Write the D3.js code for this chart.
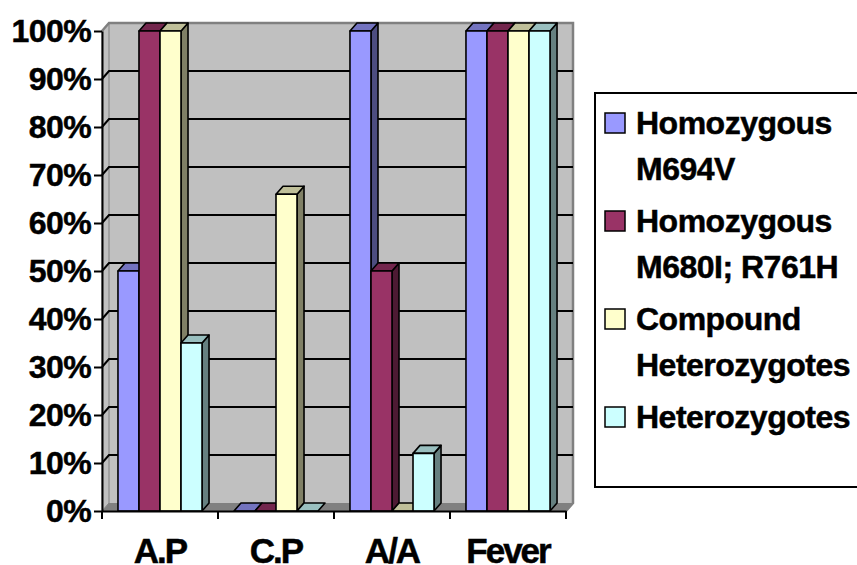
<!DOCTYPE html>
<html>
<head>
<meta charset="utf-8">
<script src="https://cdn.jsdelivr.net/npm/d3@7"></script>
<style>
  html, body { margin: 0; padding: 0; background: #fff; }
  svg { display: block; }
  text { font-family: "Liberation Sans", Arial, sans-serif; font-weight: bold; fill: #000; }
</style>
</head>
<body>
<svg id="chart" width="857" height="565"></svg>
<script>
// Categories along the x axis
const categories = ["A.P", "C.P", "A/A", "Fever"];
// Genotype groups (series)
const seriesNames = ["Homozygous M694V", "Homozygous M680I; R761H", "Compound Heterozygotes", "Heterozygotes"];
const legendLines = [["Homozygous", "M694V"], ["Homozygous", "M680I; R761H"], ["Compound", "Heterozygotes"], ["Heterozygotes"]];
// Share of patients (fraction) per category, one array per series
const m694v    = [0.50, 0.00, 1.00, 1.00];
const m680i    = [1.00, 0.00, 0.50, 1.00];
const compound = [1.00, 0.66, 0.00, 1.00];
const hetero   = [0.35, 0.00, 0.12, 1.00];
const seriesValues = [m694v, m680i, compound, hetero];
const yTicks = [0, 0.1, 0.2, 0.3, 0.4, 0.5, 0.6, 0.7, 0.8, 0.9, 1.0];

const fills = ["#9999FF", "#993366", "#FFFFCC", "#CCFFFF"];
const shade = (c, k) => { const r = d3.rgb(c); return d3.rgb(r.r * k, r.g * k, r.b * k).formatHex(); };

const svg = d3.select("#chart");

// Front plane geometry and 3D depth offset
const pLeft = 102, pRight = 566, pBottom = 511, pTop = 31;
const dx = 7, dy = 8;

const x = d3.scaleBand().domain(categories).range([pLeft, pRight]).padding(0);
const xs = d3.scaleBand().domain(d3.range(seriesNames.length))
  .range([0, x.bandwidth()]).paddingInner(0).paddingOuter(0.76);
const y = d3.scaleLinear().domain([0, 1]).range([pBottom, pTop]);

// Walls and floor
const g = svg.append("g");
g.append("rect")
  .attr("x", pLeft + dx).attr("y", pTop - dy)
  .attr("width", pRight - pLeft).attr("height", pBottom - pTop)
  .attr("fill", "#C0C0C0");
g.append("polygon")
  .attr("points", [[pLeft, pTop], [pLeft + dx, pTop - dy], [pLeft + dx, pBottom - dy], [pLeft, pBottom]].join(" "))
  .attr("fill", "#C0C0C0").attr("stroke", "#808080").attr("stroke-width", 1);
g.append("polygon")
  .attr("points", [[pLeft, pBottom], [pLeft + dx, pBottom - dy], [pRight + dx, pBottom - dy], [pRight, pBottom]].join(" "))
  .attr("fill", "#808080");
// wall border on the top and right
g.append("path")
  .attr("d", `M${pLeft},${pTop}L${pLeft + dx},${pTop - dy}H${pRight + dx}V${pBottom - dy}L${pRight},${pBottom}`)
  .attr("fill", "none").attr("stroke", "#808080").attr("stroke-width", 2.5);

// Gridlines on back wall and left wall
const grid = g.append("g");
yTicks.filter(t => t > 0 && t < 1).forEach(t => {
  grid.append("path")
    .attr("d", `M${pLeft},${y(t)}L${pLeft + dx},${y(t) - dy}H${pRight + dx}`)
    .attr("fill", "none").attr("stroke", "#000").attr("stroke-width", 2);
});

// Bars drawn left to right so each front face covers the neighbour's side
const bars = svg.append("g");
categories.forEach((cat, ci) => {
  seriesValues.forEach((vals, si) => {
    const v = vals[ci];
    const x0 = x(cat) + xs(si), x1 = x0 + xs.bandwidth();
    const yt = y(v), yb = y(0);
    const c = fills[si];
    const bg = bars.append("g").attr("stroke", "#000").attr("stroke-width", 1.6).attr("stroke-linejoin", "round");
    if (v > 0) {
      bg.append("polygon")
        .attr("points", [[x1, yt], [x1 + dx, yt - dy], [x1 + dx, yb - dy], [x1, yb]].join(" "))
        .attr("fill", shade(c, 0.5));
    }
    bg.append("polygon")
      .attr("points", [[x0, yt], [x0 + dx, yt - dy], [x1 + dx, yt - dy], [x1, yt]].join(" "))
      .attr("fill", shade(c, 0.75));
    if (v > 0) {
      bg.append("rect")
        .attr("x", x0).attr("y", yt).attr("width", x1 - x0).attr("height", yb - yt)
        .attr("fill", c);
    }
  });
});

// Value axis
const yAxis = svg.append("g")
  .attr("transform", `translate(${pLeft},0)`)
  .call(d3.axisLeft(y).tickValues(yTicks).tickFormat(d3.format(".0%")).tickSize(8).tickPadding(3).tickSizeOuter(0));
yAxis.select(".domain").attr("stroke", "#000").attr("stroke-width", 2);
yAxis.selectAll(".tick line").attr("stroke", "#000").attr("stroke-width", 2);
yAxis.selectAll(".tick text")
  .attr("font-family", "Liberation Sans, Arial, sans-serif")
  .attr("font-weight", "bold").attr("font-size", 32)
  .attr("letter-spacing", "-0.6px").attr("fill", "#000")
  .attr("stroke", "#000").attr("stroke-width", 0.5);

// Category axis
const xAxis = svg.append("g")
  .attr("transform", `translate(0,${pBottom})`)
  .call(d3.axisBottom(x).tickSize(0).tickPadding(27).tickSizeOuter(0));
xAxis.select(".domain").attr("stroke", "#000").attr("stroke-width", 2);
xAxis.selectAll(".tick text")
  .attr("font-family", "Liberation Sans, Arial, sans-serif")
  .attr("font-weight", "bold").attr("font-size", 35)
  .attr("letter-spacing", "-2px").attr("fill", "#000")
  .attr("stroke", "#000").attr("stroke-width", 0.5);
// tick marks at category boundaries
const bounds = categories.map(c => x(c)).concat([x(categories[categories.length - 1]) + x.bandwidth()]);
xAxis.selectAll("line.bound").data(bounds).join("line")
  .attr("class", "bound")
  .attr("x1", d => d).attr("x2", d => d).attr("y1", 0).attr("y2", 8)
  .attr("stroke", "#000").attr("stroke-width", 2);

// Legend
const lg = svg.append("g");
lg.append("rect").attr("x", 595).attr("y", 93).attr("width", 280).attr("height", 394)
  .attr("fill", "#fff").attr("stroke", "#000").attr("stroke-width", 2);
const itemY = [134, 232, 330, 428];
legendLines.forEach((lines, i) => {
  lg.append("rect").attr("x", 605).attr("y", itemY[i] - 21).attr("width", 20).attr("height", 20)
    .attr("fill", fills[i]).attr("stroke", "#000").attr("stroke-width", 1.5);
  const t = lg.append("text").attr("x", 636).attr("y", itemY[i])
    .attr("font-size", 32).attr("letter-spacing", "-0.5px")
    .attr("stroke", "#000").attr("stroke-width", 0.5);
  lines.forEach((ln, li) => {
    t.append("tspan").attr("x", 636).attr("dy", li === 0 ? 0 : 46).text(ln);
  });
});
</script>
</body>
</html>
